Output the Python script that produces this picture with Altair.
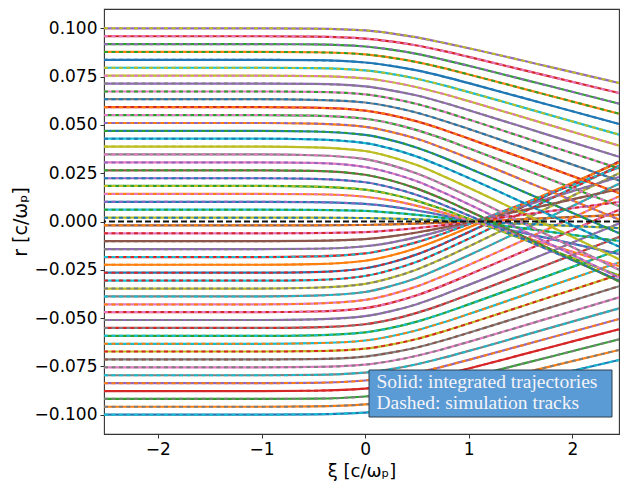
import altair as alt
import pandas as pd

# longitudinal samples (xi, in c/omega_p) at which every track is tabulated
xi = [-2.52, -1.0, -0.5, 0.0, 0.25, 0.5, 0.75, 1.0, 1.75, 2.45]

# radial position r (c/omega_p) of each track at the xi samples, from r0 = -0.1 to r0 = +0.1
tracks = [
    [-0.1000, -0.1000, -0.0998, -0.0989, -0.0974, -0.0953, -0.0926, -0.0897, -0.0804, -0.0717],
    [-0.0959, -0.0959, -0.0957, -0.0947, -0.0932, -0.0911, -0.0883, -0.0852, -0.0755, -0.0665],
    [-0.0918, -0.0918, -0.0917, -0.0906, -0.0890, -0.0868, -0.0838, -0.0806, -0.0705, -0.0610],
    [-0.0878, -0.0878, -0.0876, -0.0865, -0.0848, -0.0825, -0.0795, -0.0761, -0.0656, -0.0558],
    [-0.0837, -0.0837, -0.0835, -0.0823, -0.0806, -0.0782, -0.0751, -0.0716, -0.0607, -0.0505],
    [-0.0796, -0.0796, -0.0794, -0.0782, -0.0764, -0.0739, -0.0706, -0.0670, -0.0556, -0.0450],
    [-0.0755, -0.0755, -0.0753, -0.0741, -0.0722, -0.0695, -0.0661, -0.0623, -0.0504, -0.0393],
    [-0.0714, -0.0714, -0.0712, -0.0699, -0.0679, -0.0652, -0.0616, -0.0576, -0.0451, -0.0335],
    [-0.0673, -0.0673, -0.0671, -0.0658, -0.0637, -0.0608, -0.0570, -0.0528, -0.0397, -0.0275],
    [-0.0633, -0.0633, -0.0630, -0.0616, -0.0594, -0.0563, -0.0523, -0.0479, -0.0341, -0.0212],
    [-0.0592, -0.0592, -0.0589, -0.0574, -0.0551, -0.0518, -0.0476, -0.0429, -0.0284, -0.0147],
    [-0.0551, -0.0551, -0.0548, -0.0532, -0.0508, -0.0473, -0.0429, -0.0379, -0.0225, -0.0080],
    [-0.0510, -0.0510, -0.0507, -0.0490, -0.0464, -0.0428, -0.0380, -0.0328, -0.0164, -0.0010],
    [-0.0469, -0.0469, -0.0466, -0.0448, -0.0421, -0.0382, -0.0332, -0.0276, -0.0103, 0.0060],
    [-0.0429, -0.0429, -0.0425, -0.0406, -0.0377, -0.0336, -0.0283, -0.0225, -0.0042, 0.0130],
    [-0.0388, -0.0388, -0.0384, -0.0365, -0.0334, -0.0292, -0.0236, -0.0175, 0.0016, 0.0195],
    [-0.0347, -0.0347, -0.0343, -0.0323, -0.0292, -0.0248, -0.0192, -0.0129, 0.0067, 0.0250],
    [-0.0306, -0.0306, -0.0303, -0.0282, -0.0251, -0.0208, -0.0151, -0.0089, 0.0107, 0.0290],
    [-0.0265, -0.0265, -0.0262, -0.0242, -0.0212, -0.0170, -0.0116, -0.0055, 0.0133, 0.0310],
    [-0.0224, -0.0224, -0.0221, -0.0203, -0.0176, -0.0137, -0.0087, -0.0031, 0.0142, 0.0305],
    [-0.0184, -0.0184, -0.0181, -0.0165, -0.0141, -0.0107, -0.0063, -0.0014, 0.0138, 0.0280],
    [-0.0143, -0.0143, -0.0141, -0.0128, -0.0109, -0.0081, -0.0046, -0.0007, 0.0116, 0.0230],
    [-0.0102, -0.0102, -0.0100, -0.0091, -0.0077, -0.0057, -0.0032, -0.0003, 0.0085, 0.0168],
    [-0.0061, -0.0061, -0.0060, -0.0055, -0.0046, -0.0034, -0.0019, -0.0002, 0.0051, 0.0101],
    [-0.0020, -0.0020, -0.0020, -0.0018, -0.0015, -0.0011, -0.0006, 0.0000, 0.0017, 0.0034],
    [0.0020, 0.0020, 0.0020, 0.0018, 0.0015, 0.0011, 0.0006, 0.0000, -0.0017, -0.0034],
    [0.0061, 0.0061, 0.0060, 0.0055, 0.0046, 0.0034, 0.0019, 0.0002, -0.0051, -0.0101],
    [0.0102, 0.0102, 0.0100, 0.0091, 0.0077, 0.0057, 0.0032, 0.0003, -0.0085, -0.0168],
    [0.0143, 0.0143, 0.0141, 0.0128, 0.0109, 0.0081, 0.0046, 0.0007, -0.0116, -0.0230],
    [0.0184, 0.0184, 0.0181, 0.0165, 0.0141, 0.0107, 0.0063, 0.0014, -0.0138, -0.0280],
    [0.0224, 0.0224, 0.0221, 0.0203, 0.0176, 0.0137, 0.0087, 0.0031, -0.0142, -0.0305],
    [0.0265, 0.0265, 0.0262, 0.0242, 0.0212, 0.0170, 0.0116, 0.0055, -0.0133, -0.0310],
    [0.0306, 0.0306, 0.0303, 0.0282, 0.0251, 0.0208, 0.0151, 0.0089, -0.0107, -0.0290],
    [0.0347, 0.0347, 0.0343, 0.0323, 0.0292, 0.0248, 0.0192, 0.0129, -0.0067, -0.0250],
    [0.0388, 0.0388, 0.0384, 0.0365, 0.0334, 0.0292, 0.0236, 0.0175, -0.0016, -0.0195],
    [0.0429, 0.0429, 0.0425, 0.0406, 0.0377, 0.0336, 0.0283, 0.0225, 0.0042, -0.0130],
    [0.0469, 0.0469, 0.0466, 0.0448, 0.0421, 0.0382, 0.0332, 0.0276, 0.0103, -0.0060],
    [0.0510, 0.0510, 0.0507, 0.0490, 0.0464, 0.0428, 0.0380, 0.0328, 0.0164, 0.0010],
    [0.0551, 0.0551, 0.0548, 0.0532, 0.0508, 0.0473, 0.0429, 0.0379, 0.0225, 0.0080],
    [0.0592, 0.0592, 0.0589, 0.0574, 0.0551, 0.0518, 0.0476, 0.0429, 0.0284, 0.0147],
    [0.0633, 0.0633, 0.0630, 0.0616, 0.0594, 0.0563, 0.0523, 0.0479, 0.0341, 0.0212],
    [0.0673, 0.0673, 0.0671, 0.0658, 0.0637, 0.0608, 0.0570, 0.0528, 0.0397, 0.0275],
    [0.0714, 0.0714, 0.0712, 0.0699, 0.0679, 0.0652, 0.0616, 0.0576, 0.0451, 0.0335],
    [0.0755, 0.0755, 0.0753, 0.0741, 0.0722, 0.0695, 0.0661, 0.0623, 0.0504, 0.0393],
    [0.0796, 0.0796, 0.0794, 0.0782, 0.0764, 0.0739, 0.0706, 0.0670, 0.0556, 0.0450],
    [0.0837, 0.0837, 0.0835, 0.0823, 0.0806, 0.0782, 0.0751, 0.0716, 0.0607, 0.0505],
    [0.0878, 0.0878, 0.0876, 0.0865, 0.0848, 0.0825, 0.0795, 0.0761, 0.0656, 0.0558],
    [0.0918, 0.0918, 0.0917, 0.0906, 0.0890, 0.0868, 0.0838, 0.0806, 0.0705, 0.0610],
    [0.0959, 0.0959, 0.0957, 0.0947, 0.0932, 0.0911, 0.0883, 0.0852, 0.0755, 0.0665],
    [0.1000, 0.1000, 0.0998, 0.0989, 0.0974, 0.0953, 0.0926, 0.0897, 0.0804, 0.0717],
]

# matplotlib tab10 palette
C = {
    "blue": "#1f77b4", "orange": "#ff7f0e", "green": "#2ca02c", "red": "#d62728",
    "purple": "#9467bd", "brown": "#8c564b", "pink": "#e377c2", "gray": "#7f7f7f",
    "olive": "#bcbd22", "cyan": "#17becf",
}

# colour of each integrated trajectory (solid) and simulation track (dashed), same order as tracks
solid_names = [
    "blue", "orange", "green", "red", "purple", "gray", "pink", "gray", "olive", "cyan",
    "green", "red", "purple", "red", "pink", "gray", "olive", "cyan", "blue", "orange",
    "red", "purple", "brown", "pink", "brown", "olive", "cyan", "blue", "orange", "green",
    "purple", "brown", "pink", "gray", "olive", "cyan", "blue", "orange", "green", "red",
    "gray", "pink", "purple", "olive", "cyan", "blue", "orange", "green", "red", "purple",
]
dashed_names = [
    "cyan", "gray", "gray", "red", "orange", "cyan", "gray", "brown", "red", "orange",
    "cyan", "gray", "gray", "pink", "orange", "cyan", "gray", "red", "red", "orange",
    "cyan", "gray", "brown", "red", "orange", "blue", "green", "purple", "pink", "olive",
    "blue", "green", "purple", "pink", "olive", "blue", "green", "purple", "pink", "orange",
    "blue", "green", "gray", "pink", "olive", "blue", "green", "purple", "pink", "olive",
]
solid_colors = [C[n] for n in solid_names]
dashed_colors = [C[n] for n in dashed_names]

y_ticks = [-0.1, -0.075, -0.05, -0.025, 0.0, 0.025, 0.05, 0.075, 0.1]
x_ticks = [-2, -1, 0, 1, 2]

records = []
for k, row in enumerate(tracks):
    for x, r in zip(xi, row):
        records.append({"xi": x, "r": r, "track": k})
df = pd.DataFrame(records)
track_ids = list(range(len(tracks)))

x_enc = alt.X(
    "xi:Q",
    scale=alt.Scale(domain=[-2.52, 2.45], nice=False, zero=False),
    axis=alt.Axis(
        values=x_ticks, format="d", title="ξ [c/ωₚ]",
        labelFont="DejaVu Sans", labelFontSize=17, labelColor="black", labelPadding=3,
        tickSize=4, tickColor="#333", domain=False, grid=False,
        titleFont="DejaVu Sans", titleFontSize=18, titleFontWeight="normal", titleColor="black",
        titleX=257.5, titleY=37, titleBaseline="middle", titleAlign="center",
    ),
)
y_enc = alt.Y(
    "r:Q",
    scale=alt.Scale(domain=[-0.11, 0.11], nice=False, zero=False),
    axis=alt.Axis(
        values=y_ticks, format=".3f", title="r [c/ωₚ]",
        labelFont="DejaVu Sans", labelFontSize=17, labelColor="black", labelPadding=3,
        tickSize=4, tickColor="#333", domain=False, grid=False,
        titleFont="DejaVu Sans", titleFontSize=19, titleFontWeight="normal", titleColor="black",
        titleX=-84, titleY=212.5, titleAngle=270, titleBaseline="middle", titleAlign="center",
    ),
)

base = alt.Chart(df)

solid = base.mark_line(interpolate="monotone", strokeWidth=2.2).encode(
    x=x_enc, y=y_enc,
    color=alt.Color("track:N", scale=alt.Scale(domain=track_ids, range=solid_colors), legend=None),
)
dashed = base.mark_line(interpolate="monotone", strokeWidth=2.0, strokeDash=[4, 3.5]).encode(
    x="xi:Q", y="r:Q",
    color=alt.Color("track:N", scale=alt.Scale(domain=track_ids, range=dashed_colors), legend=None),
)

axis_line = alt.Chart(pd.DataFrame({"r": [0.0]})).mark_rule(
    color="#111", strokeWidth=2.0, strokeDash=[6, 3]
).encode(y="r:Q")

note_box = alt.Chart(pd.DataFrame({"a": [0]})).mark_rect(
    fill="#5b9bd5", stroke="#2e3d4d", strokeWidth=1
).encode(x=alt.value(265), x2=alt.value(508), y=alt.value(361), y2=alt.value(408))

note_font = dict(font="Liberation Serif", fontSize=19.5, color="#f3f3f8", align="left", baseline="middle")
note1 = alt.Chart(pd.DataFrame({"t": ["Solid: integrated trajectories"]})).mark_text(**note_font).encode(
    x=alt.value(272.5), y=alt.value(372.5), text="t:N"
)
note2 = alt.Chart(pd.DataFrame({"t": ["Dashed: simulation tracks"]})).mark_text(**note_font).encode(
    x=alt.value(272.5), y=alt.value(393.5), text="t:N"
)

chart = (
    alt.layer(solid, dashed, axis_line, note_box, note1, note2)
    .resolve_scale(color="independent")
    .properties(
        width=515, height=425, autosize="none",
        padding={"left": 104, "top": 9, "right": 1, "bottom": 50},
        background="white",
    )
    .configure_view(stroke="#333", strokeWidth=1.1)
)

chart.save("out.html", embed_options={"renderer": "svg", "actions": False})
